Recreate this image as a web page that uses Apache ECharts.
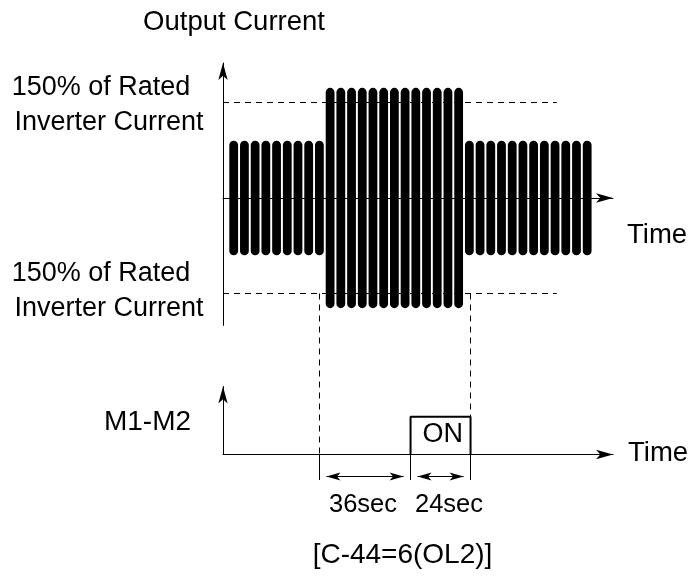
<!DOCTYPE html>
<html>
<head>
<meta charset="utf-8">
<title>Output Current / M1-M2</title>
<script src="https://cdn.jsdelivr.net/npm/echarts@6/dist/echarts.min.js"></script>
<style>
  html, body { margin: 0; padding: 0; background: #fff; }
  #chart { width: 690px; height: 576px; }
</style>
</head>
<body>
<div id="chart"></div>
<script>
// time axis is counted in current cycles (one pulse = one unit)
const pulseIndex = [0, 1, 2, 3, 4, 5, 6, 7, 8, 9, 10, 11, 12, 13, 14, 15, 16,
  17, 18, 19, 20, 21, 22, 23, 24, 25, 26, 27, 28, 29, 30, 31, 32, 33]
// peak of each pulse, % of rated inverter current
const pulsePeak = [90, 90, 90, 90, 90, 90, 90, 90, 90,
  173, 173, 173, 173, 173, 173, 173, 173, 173, 173, 173, 173, 173,
  90, 90, 90, 90, 90, 90, 90, 90, 90, 90, 90, 90]
const ratedLimit = 150
const ratedLineEnd = 30.16

// time marks
const overloadStart = 8.01
const relayOn = 16.51
const overloadEnd = 22.11
const intervalLabels = ['36sec', '24sec']

// M1-M2 relay output (0 = off, 1 = on)
const relayTime = [relayOn, relayOn, overloadEnd, overloadEnd]
const relayLevel = [0, 1, 1, 0]

const FONT = '"Liberation Sans", Arial, sans-serif'
const X_MIN = -1
const X_MAX = 35.41

// rows of the overlay grid used for guide lines that cross both plots
const guideTop = 293.5
const axisRow = 454.5
const boxRow = 416.7
const dimRow = 476.5
const extBottom = 480

const chart = echarts.init(document.getElementById('chart'))

function renderPulse(params, api) {
  const x = api.value(0)
  const peak = api.value(1)
  const top = api.coord([x, peak])
  const bottom = api.coord([x, -peak])
  const w = api.coord([x + 0.41, 0])[0] - api.coord([x - 0.41, 0])[0]
  return {
    type: 'rect',
    shape: { x: top[0] - w / 2, y: top[1], width: w, height: bottom[1] - top[1], r: w / 2 },
    style: { fill: '#000' }
  }
}

function plotXAxis(gridIndex) {
  return {
    gridIndex: gridIndex,
    type: 'value',
    min: X_MIN,
    max: X_MAX,
    axisLine: {
      show: true,
      onZero: true,
      symbol: ['none', 'arrow'],
      symbolSize: [7, 17],
      lineStyle: { color: '#000', width: 1 }
    },
    axisTick: { show: false },
    axisLabel: { show: false },
    splitLine: { show: false }
  }
}

function plotYAxis(gridIndex, min, max) {
  return {
    gridIndex: gridIndex,
    type: 'value',
    min: min,
    max: max,
    axisLine: {
      show: true,
      onZero: false,
      symbol: ['none', 'arrow'],
      symbolSize: [7, 17],
      lineStyle: { color: '#000', width: 1 }
    },
    axisTick: { show: false },
    axisLabel: { show: false },
    splitLine: { show: false }
  }
}

function label(text, x, y, align, size) {
  return {
    type: 'text',
    x: x,
    y: y,
    silent: true,
    style: {
      text: text,
      font: size + 'px ' + FONT,
      fill: '#000',
      align: align,
      textAlign: align,
      verticalAlign: 'middle',
      textVerticalAlign: 'middle'
    }
  }
}

const arrowShift = 0.65

const option = {
  animation: false,
  backgroundColor: '#fff',
  grid: [
    { left: 223, top: 63.03, width: 390, height: 262.3, outerBoundsMode: 'none' },
    { left: 223, top: 386.5, width: 390, height: 68, outerBoundsMode: 'none' },
    { left: 223, top: 0, width: 390, height: 576, outerBoundsMode: 'none' }
  ],
  xAxis: [
    plotXAxis(0),
    plotXAxis(1),
    { gridIndex: 2, type: 'value', min: X_MIN, max: X_MAX, show: false }
  ],
  yAxis: [
    plotYAxis(0, -200, 212),
    plotYAxis(1, 0, 1.8),
    { gridIndex: 2, type: 'value', min: 0, max: 576, inverse: true, show: false }
  ],
  series: [
    {
      name: 'Output Current',
      type: 'custom',
      xAxisIndex: 0,
      yAxisIndex: 0,
      renderItem: renderPulse,
      data: pulseIndex.map((x, i) => [x, pulsePeak[i]]),
      silent: true
    },
    {
      type: 'line',
      xAxisIndex: 0,
      yAxisIndex: 0,
      symbol: 'none',
      silent: true,
      lineStyle: { color: '#000', width: 1, type: [6, 5] },
      data: [[X_MIN, ratedLimit], [ratedLineEnd, ratedLimit]]
    },
    {
      type: 'line',
      xAxisIndex: 0,
      yAxisIndex: 0,
      symbol: 'none',
      silent: true,
      lineStyle: { color: '#000', width: 1, type: [6, 5] },
      data: [[X_MIN, -ratedLimit], [ratedLineEnd, -ratedLimit]]
    },
    {
      name: 'M1-M2',
      type: 'line',
      xAxisIndex: 1,
      yAxisIndex: 1,
      symbol: 'none',
      silent: true,
      lineStyle: { color: '#000', width: 2 },
      data: relayTime.map((t, i) => [t, relayLevel[i]])
    },
    // dashed guides from the overload pulses down to the relay plot
    {
      type: 'line',
      xAxisIndex: 2,
      yAxisIndex: 2,
      data: [],
      silent: true,
      markLine: {
        silent: true,
        symbol: 'none',
        label: { show: false },
        lineStyle: { color: '#000', width: 1, type: [6, 5] },
        data: [
          [{ coord: [overloadStart, guideTop] }, { coord: [overloadStart, axisRow] }],
          [{ coord: [overloadEnd, guideTop] }, { coord: [overloadEnd, boxRow] }]
        ]
      }
    },
    // extension lines under the time axis
    {
      type: 'line',
      xAxisIndex: 2,
      yAxisIndex: 2,
      data: [],
      silent: true,
      markLine: {
        silent: true,
        symbol: 'none',
        label: { show: false },
        lineStyle: { color: '#000', width: 1, type: 'solid' },
        data: [overloadStart, relayOn, overloadEnd].map(t => [
          { coord: [t, axisRow] }, { coord: [t, extBottom] }
        ])
      }
    },
    // dimension arrows
    {
      type: 'line',
      xAxisIndex: 2,
      yAxisIndex: 2,
      data: [],
      silent: true,
      markLine: {
        silent: true,
        symbol: ['arrow', 'arrow'],
        symbolSize: [6, 14],
        label: { show: false },
        lineStyle: { color: '#000', width: 1, type: 'solid' },
        data: [
          [{ coord: [overloadStart + arrowShift, dimRow] }, { coord: [relayOn - arrowShift, dimRow] }],
          [{ coord: [relayOn + arrowShift, dimRow] }, { coord: [overloadEnd - arrowShift, dimRow] }]
        ]
      }
    }
  ],
  graphic: [
    label('Output Current', 234, 22.5, 'center', 27.5),
    label('150% of Rated', 101, 87.5, 'center', 27),
    label('Inverter Current', 109, 122.5, 'center', 27),
    label('150% of Rated', 101, 274, 'center', 27),
    label('Inverter Current', 109, 309, 'center', 27),
    label('Time', 627, 235.5, 'left', 27.5),
    label('M1-M2', 147.5, 422.5, 'center', 28),
    label('Time', 628, 453, 'left', 27.5),
    label('ON', 442.7, 434.6, 'center', 27),
    label(intervalLabels[0], 363, 504.5, 'center', 25.5),
    label(intervalLabels[1], 449, 504.5, 'center', 25.5),
    label('[C-44=6(OL2)]', 402.5, 555.5, 'center', 28)
  ]
}

chart.setOption(option)
</script>
</body>
</html>
